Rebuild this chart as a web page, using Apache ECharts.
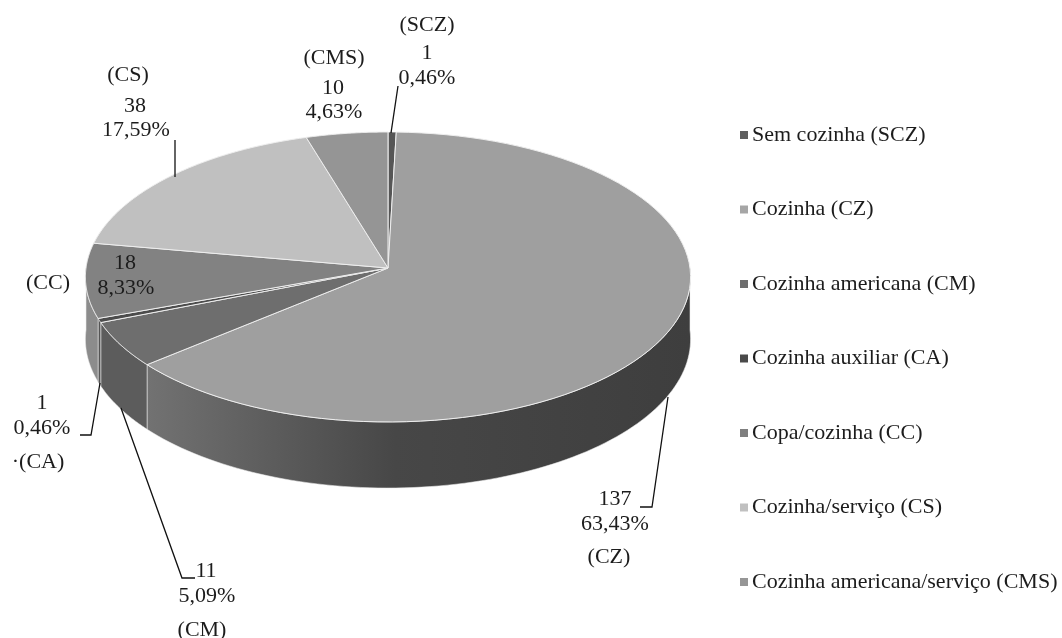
<!DOCTYPE html>
<html>
<head>
<meta charset="utf-8">
<script src="https://cdn.jsdelivr.net/npm/echarts@6/dist/echarts.min.js"></script>
<style>
html,body{margin:0;padding:0;background:#fff;}
#chart{width:1062px;height:638px;}
</style>
</head>
<body>
<div id="chart"></div>
<script>
// ---- data ----
const categories = ['Sem cozinha (SCZ)', 'Cozinha (CZ)', 'Cozinha americana (CM)', 'Cozinha auxiliar (CA)', 'Copa/cozinha (CC)', 'Cozinha/serviço (CS)', 'Cozinha americana/serviço (CMS)'];
const abbrevs = ['(SCZ)', '(CZ)', '(CM)', '(CA)', '(CC)', '(CS)', '(CMS)'];
const values = [1, 137, 11, 1, 18, 38, 10];

// ---- styles ----
const topColors = ['#565656', '#9f9f9f', '#6e6e6e', '#4c4c4c', '#828282', '#c0c0c0', '#959595'];
const legendColors = ['#5f5f5f', '#a6a6a6', '#6e6e6e', '#4a4a4a', '#7f7f7f', '#c0c0c0', '#969696'];
const FONT = '"Liberation Serif", "Times New Roman", serif';
// 3D pie projection: apex, radius, vertical half-height, perspective factor, wall depth
const geo = { cx: 388, cy: 268, rx: 302, h: 144.4, p: 0.062, depth: 62, start: -90 };

const total = values.reduce((a, b) => a + b, 0);
function pct(v) { return (v / total * 100).toFixed(2).replace('.', ',') + '%'; }

function proj(t, down) {
  const c = Math.cos(t), s = Math.sin(t);
  const k = 1 / (1 - geo.p * s);
  return [geo.cx + geo.rx * c * k, geo.cy + geo.h * s * k + (down ? geo.depth * k : 0)];
}

function wallFill(i) {
  if (i === 1) {
    return new echarts.graphic.LinearGradient(100, 0, 690, 0, [
      { offset: 0, color: '#7a7a7a' },
      { offset: 0.08, color: '#727272' },
      { offset: 0.5, color: '#474747' },
      { offset: 1, color: '#3e3e3e' }
    ], true);
  }
  return ['#555', '#404040', '#5c5c5c', '#555555', '#8c8c8c', '#999', '#999'][i];
}

function renderSlice(params, api) {
  const i = params.seriesIndex;
  let before = 0;
  for (let k = 0; k < i; k++) before += values[k];
  const v = api.value(0);
  const a1 = (geo.start + before / total * 360) * Math.PI / 180;
  const a2 = (geo.start + (before + v) / total * 360) * Math.PI / 180;
  const children = [];
  const n = 90;
  const t1 = Math.max(a1, 0), t2 = Math.min(a2, Math.PI);
  if (t2 > t1) {
    const pts = [];
    for (let s = 0; s <= n; s++) pts.push(proj(t1 + (t2 - t1) * s / n, false));
    for (let s = n; s >= 0; s--) pts.push(proj(t1 + (t2 - t1) * s / n, true));
    children.push({
      type: 'polygon',
      shape: { points: pts },
      style: { fill: wallFill(i), stroke: 'rgba(235,235,235,0.7)', lineWidth: 0.8 },
      z2: 1
    });
  }
  const top = [[geo.cx, geo.cy]];
  for (let s = 0; s <= n; s++) top.push(proj(a1 + (a2 - a1) * s / n, false));
  children.push({
    type: 'polygon',
    shape: { points: top },
    style: { fill: topColors[i], stroke: '#eeeeee', lineWidth: 1 },
    z2: 2
  });
  return { type: 'group', children: children };
}

// label layout (positions of annotation texts)
const labelLayout = [
  { i: 0, lines: [['abbr', 427, 25], ['val', 427, 53], ['pct', 427, 78]] },
  { i: 1, lines: [['val', 615, 499], ['pct', 615, 524], ['abbr', 609, 557]] },
  { i: 2, lines: [['val', 206, 571], ['pct', 207, 596], ['abbr', 202, 630]] },
  { i: 3, lines: [['val', 42, 403], ['pct', 42, 428], ['abbrDot', 38, 462]] },
  { i: 4, lines: [['abbr', 48, 283], ['val', 125, 263], ['pct', 126, 288]] },
  { i: 5, lines: [['abbr', 128, 75], ['val', 135, 106], ['pct', 136, 130]] },
  { i: 6, lines: [['abbr', 334, 58], ['val', 333, 88], ['pct', 334, 112]] }
];
const leaders = [
  [[398, 86], [391, 133]],
  [[640, 507], [652, 507], [668, 397]],
  [[121, 408], [182, 578], [195, 578]],
  [[80, 435], [91, 435], [100, 383]],
  [[175, 140], [175, 177]]
];

const graphics = [];
labelLayout.forEach(L => {
  L.lines.forEach(([kind, x, y]) => {
    let txt;
    if (kind === 'abbr') txt = abbrevs[L.i];
    else if (kind === 'abbrDot') txt = '·' + abbrevs[L.i];
    else if (kind === 'val') txt = String(values[L.i]);
    else txt = pct(values[L.i]);
    graphics.push({
      type: 'text', x: x, y: y, z: 100,
      style: { text: txt, fill: '#1c1c1c', font: '22px ' + FONT, textAlign: 'center', textVerticalAlign: 'middle' }
    });
  });
});
leaders.forEach(p => {
  graphics.push({ type: 'polyline', z: 100, shape: { points: p }, style: { stroke: '#111', lineWidth: 1.3, fill: null } });
});

const series = categories.map((name, i) => ({
  name: name,
  type: 'custom',
  coordinateSystem: 'none',
  itemStyle: { color: legendColors[i] },
  renderItem: renderSlice,
  data: [[values[i]]],
  silent: true,
  animation: false
}));

const chart = echarts.init(document.getElementById('chart'), null, { renderer: 'canvas' });
chart.setOption({
  backgroundColor: '#ffffff',
  animation: false,
  legend: {
    orient: 'vertical',
    left: 735,
    top: 119,
    itemGap: 52.5,
    itemWidth: 8,
    itemHeight: 8,
    icon: 'rect',
    data: categories,
    selectedMode: false,
    textStyle: { fontFamily: FONT, fontSize: 22, color: '#1c1c1c', padding: [0, 0, 0, -1] }
  },
  graphic: graphics,
  series: series
});
</script>
</body>
</html>
